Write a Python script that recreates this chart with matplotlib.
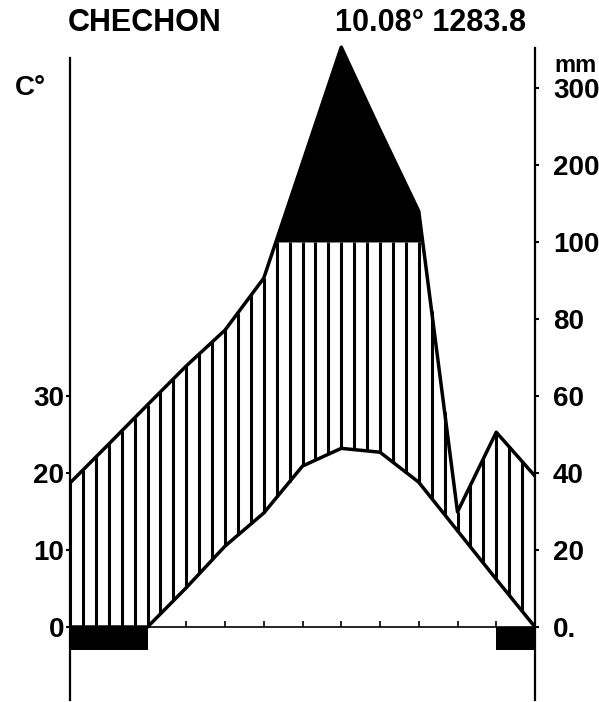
import numpy as np
import matplotlib.pyplot as plt

# station header
station = "CHECHON"
mean_temp = "10.08°"
annual_prec = "1283.8"

# values at month boundaries (0 = start of first month, 12 = end of last)
month_pos = np.arange(13)
temp = [-4.0, -2.0, 0.0, 5.1, 10.5, 14.8, 20.9, 23.2, 22.7, 18.8, 12.5, 6.2, 0.0]
prec = [37.4, 47.5, 57.7, 67.8, 77.1, 90.6, 203, 353, 245, 140, 29.9, 50.6, 39.2]
frost = [1, 1, 0, 0, 0, 0, 0, 0, 0, 0, 0, 1]

temp_ticks = [0, 10, 20, 30]
prec_ticks = [0, 20, 40, 60, 80, 100, 200, 300]
prec_labels = ["0.", "20", "40", "60", "80", "100", "200", "300"]


def prec_scale(mm):
    # Walter-Lieth: 10 C = 20 mm, above 100 mm compressed 1/10
    mm = np.asarray(mm, dtype=float)
    return np.where(mm <= 100, mm / 2.0, 50 + (mm - 100) / 10.0)


plt.rcParams['font.family'] = ['Liberation Sans', 'DejaVu Sans']
plt.rcParams['font.weight'] = 'bold'

fig = plt.figure(figsize=(5.99, 7.02), dpi=100)
ax = fig.add_axes([70 / 599, 2 / 702, 465 / 599, 655 / 702])
ax.set_xlim(0, 12)
ax.set_ylim(-9.48, 75.58)

t = np.maximum(np.array(temp), 0)
p = prec_scale(prec)

# hatching between temperature and precipitation (capped at 100 mm)
xs = np.linspace(0, 12, 37)
lo = np.interp(xs, month_pos, t)
hi = np.minimum(np.interp(xs, month_pos, p), 50)
ax.vlines(xs, lo, hi, color='black', lw=2.2)

# black area above 100 mm
ax.fill_between(month_pos, 50, p, where=p >= 50, interpolate=True,
                color='black', lw=0)

ax.plot(month_pos, p, color='black', lw=2.5)
ax.plot(month_pos, t, color='black', lw=2.5)

# frost months
ax.bar(np.arange(12), [-3 if f else 0 for f in frost], width=1, align='edge',
       color='black', lw=0)

# axes
ax.spines['top'].set_visible(False)
ax.spines['left'].set_bounds(-9.48, 73.9)
ax.spines['left'].set_linewidth(1.6)
ax.spines['right'].set_bounds(-9.48, 75.2)
ax.spines['right'].set_linewidth(1.6)
ax.spines['bottom'].set_position(('data', 0))
ax.spines['bottom'].set_linewidth(1.2)

ax.set_xticks(range(1, 12))
ax.tick_params(axis='x', direction='in', length=4, width=1.2, labelbottom=False)

ax.set_yticks(temp_ticks)
ax.set_yticklabels([str(v) for v in temp_ticks], fontsize=20)
ax.tick_params(axis='y', length=3, width=1.5, pad=1)

ax2 = ax.twinx()
ax2.set_ylim(ax.get_ylim())
for s in ['top', 'left', 'bottom', 'right']:
    ax2.spines[s].set_visible(False)
ax2.set_yticks(prec_scale(prec_ticks))
ax2.set_yticklabels(prec_labels, fontsize=20)
ax2.tick_params(axis='y', length=3, width=1.5, pad=10)

fig.text(68 / 599, 1 - 23 / 702, station, fontsize=22, va='center', ha='left')
fig.text(335 / 599, 1 - 23 / 702, mean_temp + " " + annual_prec, fontsize=22,
         va='center', ha='left')
fig.text(15 / 599, 1 - 88 / 702, "C°", fontsize=20, va='center', ha='left')
fig.text(597 / 599, 1 - 65 / 702, "mm", fontsize=17, va='center', ha='right')

fig.savefig("out.png", dpi=100)
